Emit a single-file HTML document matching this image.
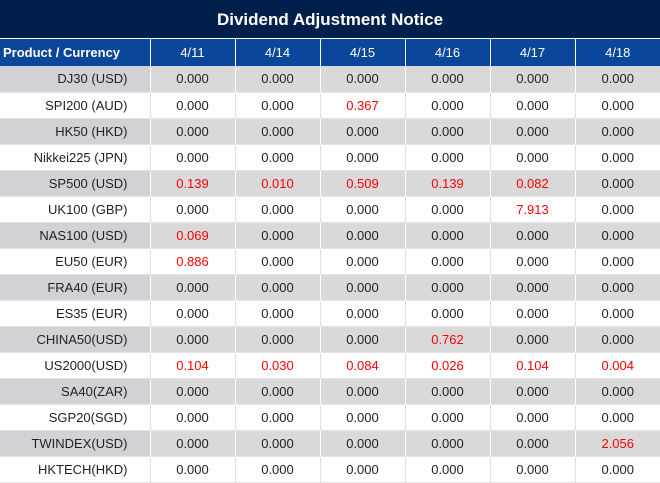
<!DOCTYPE html>
<html><head><meta charset="utf-8"><style>
body{margin:0;width:660px;height:483px;overflow:hidden;background:#fff;font-family:"Liberation Sans",sans-serif;}
.title{height:39px;background:#001f4b;color:#fff;font-weight:bold;font-size:17px;text-align:center;line-height:39px;border-bottom:1px solid #fff;box-sizing:border-box;}
table{border-collapse:collapse;table-layout:fixed;width:660px;}
td,th{height:26px;padding:0;font-size:13px;text-align:center;color:#222;box-sizing:border-box;}
th{background:#0a4699;color:#fff;font-weight:normal;border-left:1px solid #fff;height:27px;}
th:first-child{text-align:left;font-weight:bold;padding-left:3px;border-left:none;}
td:first-child{text-align:right;padding-right:22px;}
tr.g td{background:#d9d9d9;border-left:1px solid #fff;}
tr.g td:first-child{background:#d0d2d6;border-left:none;}
tr.w td{background:#fff;border-left:1px solid #e0e0e0;border-top:1px solid #e4e4e4;border-bottom:1px solid #e4e4e4;}
tr.w td:first-child{border-left:none;}
.r{color:#f00;}
</style></head><body>
<div class="title">Dividend Adjustment Notice</div>
<table>
<colgroup><col style="width:150px"><col style="width:85px"><col style="width:85px"><col style="width:85px"><col style="width:85px"><col style="width:85px"><col style="width:85px"></colgroup>
<tr><th>Product / Currency</th><th>4/11</th><th>4/14</th><th>4/15</th><th>4/16</th><th>4/17</th><th>4/18</th></tr>
<tr class="g"><td>DJ30 (USD)</td><td>0.000</td><td>0.000</td><td>0.000</td><td>0.000</td><td>0.000</td><td>0.000</td></tr>
<tr class="w"><td>SPI200 (AUD)</td><td>0.000</td><td>0.000</td><td class="r">0.367</td><td>0.000</td><td>0.000</td><td>0.000</td></tr>
<tr class="g"><td>HK50 (HKD)</td><td>0.000</td><td>0.000</td><td>0.000</td><td>0.000</td><td>0.000</td><td>0.000</td></tr>
<tr class="w"><td>Nikkei225 (JPN)</td><td>0.000</td><td>0.000</td><td>0.000</td><td>0.000</td><td>0.000</td><td>0.000</td></tr>
<tr class="g"><td>SP500 (USD)</td><td class="r">0.139</td><td class="r">0.010</td><td class="r">0.509</td><td class="r">0.139</td><td class="r">0.082</td><td>0.000</td></tr>
<tr class="w"><td>UK100 (GBP)</td><td>0.000</td><td>0.000</td><td>0.000</td><td>0.000</td><td class="r">7.913</td><td>0.000</td></tr>
<tr class="g"><td>NAS100 (USD)</td><td class="r">0.069</td><td>0.000</td><td>0.000</td><td>0.000</td><td>0.000</td><td>0.000</td></tr>
<tr class="w"><td>EU50 (EUR)</td><td class="r">0.886</td><td>0.000</td><td>0.000</td><td>0.000</td><td>0.000</td><td>0.000</td></tr>
<tr class="g"><td>FRA40 (EUR)</td><td>0.000</td><td>0.000</td><td>0.000</td><td>0.000</td><td>0.000</td><td>0.000</td></tr>
<tr class="w"><td>ES35 (EUR)</td><td>0.000</td><td>0.000</td><td>0.000</td><td>0.000</td><td>0.000</td><td>0.000</td></tr>
<tr class="g"><td>CHINA50(USD)</td><td>0.000</td><td>0.000</td><td>0.000</td><td class="r">0.762</td><td>0.000</td><td>0.000</td></tr>
<tr class="w"><td>US2000(USD)</td><td class="r">0.104</td><td class="r">0.030</td><td class="r">0.084</td><td class="r">0.026</td><td class="r">0.104</td><td class="r">0.004</td></tr>
<tr class="g"><td>SA40(ZAR)</td><td>0.000</td><td>0.000</td><td>0.000</td><td>0.000</td><td>0.000</td><td>0.000</td></tr>
<tr class="w"><td>SGP20(SGD)</td><td>0.000</td><td>0.000</td><td>0.000</td><td>0.000</td><td>0.000</td><td>0.000</td></tr>
<tr class="g"><td>TWINDEX(USD)</td><td>0.000</td><td>0.000</td><td>0.000</td><td>0.000</td><td>0.000</td><td class="r">2.056</td></tr>
<tr class="w"><td>HKTECH(HKD)</td><td>0.000</td><td>0.000</td><td>0.000</td><td>0.000</td><td>0.000</td><td>0.000</td></tr>
</table>
</body></html>
